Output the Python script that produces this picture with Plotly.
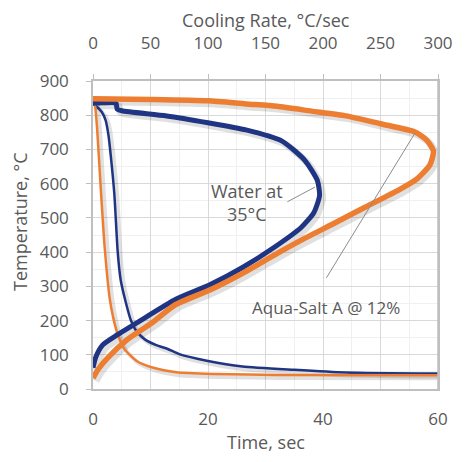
import plotly.graph_objects as go

# ---------------- data ----------------
# Cooling curves: temperature vs time (sec)
water_time = [0, 0.5, 1.5, 2.2, 2.7, 3.1, 3.7, 4.3, 4.8, 5.6, 6.6, 7.5, 9, 11, 13, 15, 20, 26, 35, 44, 60]
water_temp = [832, 827, 810, 785, 740, 680, 572, 400, 320, 260, 200, 170, 145, 128, 117, 102, 82, 66, 56, 48, 45]

salt_time = [0, 0.3, 0.7, 1.3, 2.0, 2.9, 3.5, 4.2, 5.4, 7.6, 10.5, 14.5, 21, 32, 60]
salt_temp = [847, 835, 765, 600, 420, 265, 210, 165, 118, 82, 62, 49, 44, 41, 40]

# Cooling-rate curves: temperature vs cooling rate (degC/sec)
water_rate = [0, 2.5, 8.5, 21, 38, 72, 102, 130, 158, 181, 192, 197, 195, 184, 164, 133, 100, 64, 25, 21, 20, 5, 0]
water_rtemp = [62, 94, 129, 158, 193, 262, 305, 355, 415, 472, 515, 565, 610, 669, 725, 757, 778, 798, 813, 818, 835, 836, 836]

salt_rate = [0, 5, 13, 30, 52, 72, 102, 130, 158, 184, 209, 237, 266, 282, 293, 296, 290, 280, 250, 220, 190, 160, 133, 100, 50, 0]
salt_rtemp = [32, 60, 92, 145, 195, 247, 290, 338, 392, 440, 483, 532, 582, 615, 655, 695, 728, 751, 775, 798, 812, 826, 833, 842, 846, 848]

time_ticks = [0, 10, 20, 30, 40, 50, 60]
time_labels = ["0", "", "20", "", "40", "", "60"]
rate_ticks = [0, 50, 100, 150, 200, 250, 300]
temp_ticks = [0, 100, 200, 300, 400, 500, 600, 700, 800, 900]

# ---------------- style ----------------
W, H = 465, 462
ML, MR, MT, MB = 93, 18, 81, 73
PW, PH = W - ML - MR, H - MT - MB
BLUE = "#1F3584"
ORANGE = "#ED7D31"
TXT = "#595959"
GRID = "#D9D9D9"
FONT = "Open Sans"
SH = 3  # shadow offset, px
SHC = "rgba(0,0,0,0.12)"

TMAX, RMAX, YMAX = 60, 300, 900
dt = SH * TMAX / PW
dr = SH * RMAX / PW
dy = SH * YMAX / PH


def px_x(px):
    return (px - ML) / PW


def px_y(py):
    return (H - MB - py) / PH


fig = go.Figure()

# shadows (hidden, offset axes)
fig.add_trace(go.Scatter(x=water_time, y=water_temp, xaxis="x", yaxis="y", mode="lines",
                         line=dict(color=SHC, width=4, shape="spline", smoothing=0.6), hoverinfo="skip"))
fig.add_trace(go.Scatter(x=salt_time, y=salt_temp, xaxis="x", yaxis="y", mode="lines",
                         line=dict(color=SHC, width=4, shape="spline", smoothing=0.6), hoverinfo="skip"))
fig.add_trace(go.Scatter(x=water_rate, y=water_rtemp, xaxis="x2", yaxis="y", mode="lines",
                         line=dict(color=SHC, width=7, shape="spline", smoothing=0.6), hoverinfo="skip"))
fig.add_trace(go.Scatter(x=salt_rate, y=salt_rtemp, xaxis="x2", yaxis="y", mode="lines",
                         line=dict(color=SHC, width=7, shape="spline", smoothing=0.6), hoverinfo="skip"))

# main curves
fig.add_trace(go.Scatter(x=water_rate, y=water_rtemp, xaxis="x4", yaxis="y2", mode="lines",
                         line=dict(color=BLUE, width=5, shape="spline", smoothing=0.6), name="Water rate"))
fig.add_trace(go.Scatter(x=salt_rate, y=salt_rtemp, xaxis="x4", yaxis="y2", mode="lines",
                         line=dict(color=ORANGE, width=5.5, shape="spline", smoothing=0.6), name="Salt rate"))
fig.add_trace(go.Scatter(x=water_time, y=water_temp, xaxis="x3", yaxis="y2", mode="lines",
                         line=dict(color=BLUE, width=2.5, shape="spline", smoothing=0.6), name="Water"))
fig.add_trace(go.Scatter(x=salt_time, y=salt_temp, xaxis="x3", yaxis="y2", mode="lines",
                         line=dict(color=ORANGE, width=2.5, shape="spline", smoothing=0.6), name="Salt"))

hidden = dict(visible=False, showgrid=False, zeroline=False, fixedrange=True)
tickfont = dict(family=FONT, size=17, color=TXT)

fig.update_layout(
    width=W, height=H,
    margin=dict(l=ML, r=MR, t=MT, b=MB),
    paper_bgcolor="white", plot_bgcolor="white",
    showlegend=False,
    font=dict(family=FONT, color=TXT),
    xaxis=dict(range=[-dt, TMAX - dt], **hidden),
    xaxis2=dict(range=[-dr, RMAX - dr], overlaying="x", anchor="y", **hidden),
    yaxis=dict(range=[dy, YMAX + dy], **hidden),
    xaxis3=dict(range=[0, TMAX], overlaying="x", anchor="y2", side="bottom",
                tickvals=time_ticks, ticktext=time_labels, tickfont=tickfont,
                showgrid=True, gridcolor=GRID, gridwidth=1,
                minor=dict(dtick=5, showgrid=True, gridcolor="#F0F0F0"),
                showline=True, linecolor="#BFBFBF", linewidth=1.5, mirror=False,
                ticks="", ticklabelstandoff=14, zeroline=False, fixedrange=True),
    xaxis4=dict(range=[0, RMAX], overlaying="x", anchor="y2", side="top",
                tickvals=rate_ticks, tickfont=tickfont,
                showgrid=False, showline=True, linecolor="#BFBFBF", linewidth=1.5,
                ticks="outside", ticklen=5, tickcolor="#BFBFBF",
                ticklabelstandoff=18, zeroline=False, fixedrange=True),
    yaxis2=dict(range=[0, YMAX], overlaying="y", anchor="x3", side="left",
                tickvals=temp_ticks, tickfont=tickfont,
                showgrid=True, gridcolor=GRID, gridwidth=1,
                minor=dict(dtick=50, showgrid=True, gridcolor="#F0F0F0"),
                showline=True, linecolor="#BFBFBF", linewidth=1.5, mirror=True,
                ticks="outside", ticklen=5, tickcolor="#BFBFBF",
                ticklabelstandoff=14, zeroline=False, fixedrange=True),
)

# right border
fig.add_shape(type="line", xref="paper", yref="paper", x0=1, x1=1, y0=0, y1=1,
              line=dict(color="#BFBFBF", width=1.5))

# leader lines
fig.add_shape(type="line", xref="x4", yref="y2", x0=169, y0=547, x1=193, y1=590,
              line=dict(color="#8C8C8C", width=1))
fig.add_shape(type="line", xref="x4", yref="y2", x0=203, y0=325, x1=280, y1=748,
              line=dict(color="#8C8C8C", width=1))

ann_font = dict(family=FONT, size=18, color=TXT)
fig.add_annotation(text="Cooling Rate, °C/sec", xref="paper", yref="paper",
                   x=px_x(270), y=px_y(20), xanchor="center", yanchor="middle",
                   showarrow=False, font=ann_font)
fig.add_annotation(text="Time, sec", xref="paper", yref="paper",
                   x=px_x(270), y=px_y(442), xanchor="center", yanchor="middle",
                   showarrow=False, font=ann_font)
fig.add_annotation(text="Temperature, °C", xref="paper", yref="paper",
                   x=px_x(18), y=px_y(222), xanchor="center", yanchor="middle",
                   showarrow=False, textangle=-90, font=ann_font)
fig.add_annotation(text="Water at<br>35°C", xref="x4", yref="y2", x=134, y=545,
                   xanchor="center", yanchor="middle",
                   showarrow=False, align="center", font=ann_font)
fig.add_annotation(text="Aqua-Salt A @ 12%", xref="x4", yref="y2", x=203, y=237,
                   xanchor="center", yanchor="middle",
                   showarrow=False, font=dict(family=FONT, size=17, color=TXT))

fig.write_html("out.html")
